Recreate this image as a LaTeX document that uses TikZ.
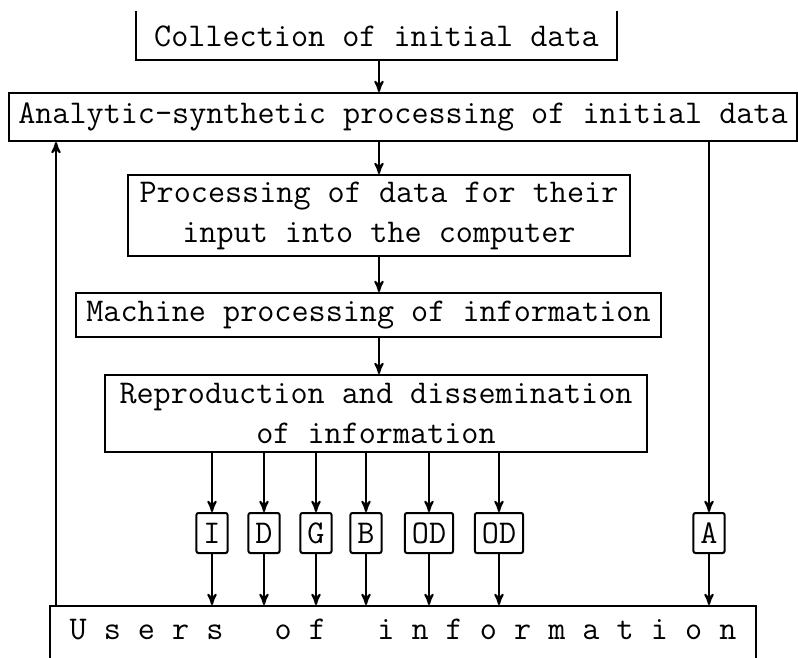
\documentclass[tikz,border=0pt]{standalone}
\usepackage{fontspec}
\usepackage{tikz}
\usetikzlibrary{arrows}

\begin{document}
\begin{tikzpicture}[->,>=stealth',line width=1pt,x=0.5pt,y=-0.5pt,
		font=\fontsize{16.6}{20}\selectfont\ttfamily]
		\tikzstyle{block}=[draw,align=center,inner sep=2pt]
		\tikzstyle{letter}=[draw,minimum height=20pt,inner xsep=3.5pt,rounded corners=1pt]
		
		\useasboundingbox (0,0) rectangle (798,658);
		
		\coordinate (axis) at (379,0);
		\coordinate (back) at (56,0);
		
		\node[align=center,minimum width=239.5pt,minimum height=23.5pt] (coll) at (376.5,36) {Collection of initial data};
		\node[block,minimum width=394pt,minimum height=24pt] (ana) at (403,117) {Analytic-synthetic processing of initial data};
		\node[block,minimum width=251pt,minimum height=40.5pt] (proc) at (379,215.5) {Processing of data for their\\input into the computer};
		\node[block,minimum width=292.5pt,minimum height=22pt] (mach) at (368.5,315) {Machine processing of information};
		\node[block,minimum width=271pt,minimum height=38.5pt] (repr) at (376,413.5) {Reproduction and dissemination\\of information};
		
		\node[letter] (I)   at (212,533) {I};
		\node[letter] (D)   at (264,533) {D};
		\node[letter] (G)   at (316,533) {G};
		\node[letter] (B)   at (366,533) {B};
		\node[letter] (OD1) at (429,533) {OD};
		\node[letter] (OD2) at (499,533) {OD};
		\node[letter] (A)   at (709,533) {A};
		
		\node[draw,anchor=north,minimum width=353pt,inner ysep=6.5pt,text depth=20pt] (users) at (403,605)
			{U~s~e~r~s~~~o~f~~~i~n~f~o~r~m~a~t~i~o~n};
		
		% collection box is open at the top
		\draw[-] (coll.north west) -- (coll.south west) -- (coll.south east) -- (coll.north east);
		
		\path
		(coll.south -| axis) edge (ana.north -| axis)
		(ana.south -| axis)  edge (proc.north -| axis)
		(proc.south -| axis) edge (mach.north -| axis)
		(mach.south -| axis) edge (repr.north -| axis)
		(repr.south -| I)    edge (I)
		(repr.south -| D)    edge (D)
		(repr.south -| G)    edge (G)
		(repr.south -| B)    edge (B)
		(repr.south -| OD1)  edge (OD1)
		(repr.south -| OD2)  edge (OD2)
		(ana.south -| A)     edge (A)
		(I)   edge (users.north -| I)
		(D)   edge (users.north -| D)
		(G)   edge (users.north -| G)
		(B)   edge (users.north -| B)
		(OD1) edge (users.north -| OD1)
		(OD2) edge (users.north -| OD2)
		(A)   edge (users.north -| A)
		(users.north -| back) edge (ana.south -| back);
		
		\end{tikzpicture}
\end{document}
